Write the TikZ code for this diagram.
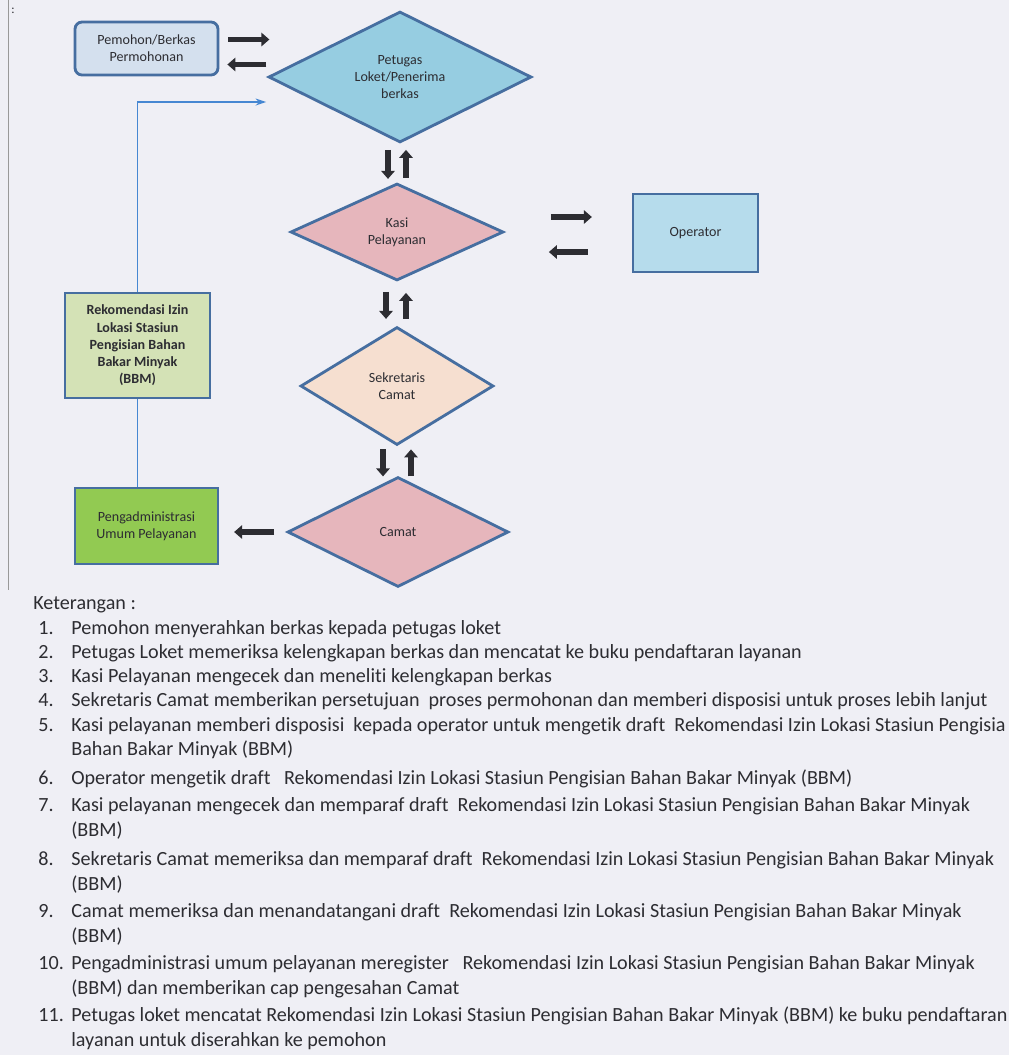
\documentclass[tikz,border=0pt]{standalone}
\usepackage{fontspec}
\setmainfont{Carlito}[Ligatures=NoCommon]
\usepackage{xcolor}
\usepackage{tikz}
\usetikzlibrary{arrows.meta,positioning,calc,shapes.geometric}

\definecolor{paper}{RGB}{239,239,245}
\definecolor{edge}{RGB}{70,110,160}
\definecolor{ink}{RGB}{45,45,50}
\definecolor{loket}{RGB}{150,205,225}
\definecolor{pemohon}{RGB}{212,224,238}
\definecolor{kasi}{RGB}{230,182,188}
\definecolor{sekcam}{RGB}{246,223,208}
\definecolor{oper}{RGB}{182,220,236}
\definecolor{rekom}{RGB}{212,226,182}
\definecolor{admin}{RGB}{146,202,82}
\definecolor{link}{RGB}{70,135,210}

\begin{document}
\begin{tikzpicture}[
  x=0.02cm, y=-0.02cm,
  box/.style={draw=edge, line width=1.6pt, align=center, text=ink,
              font=\fontsize{8}{9.6}\selectfont, inner sep=1pt},
  dia/.style={diamond, draw=edge, line width=1.6pt, align=center, text=ink,
              font=\fontsize{8}{9.6}\selectfont, inner sep=0pt, aspect=2},
  blk/.style={-{Triangle[length=4.5pt,width=7.5pt]}, line width=3.4pt, draw=ink},
  lnk/.style={draw=link, line width=1.1pt},
  lst/.style={anchor=base west, inner sep=0pt, text=ink,
              font=\fontsize{11.45}{13.5}\selectfont},
]
\useasboundingbox (0,0) rectangle (1009,1055);
\fill[paper] (0,0) rectangle (1009,1055);
\draw[black!40, line width=0.5pt] (8,0) -- (8,590);
\node[text=ink, font=\scriptsize] (dots) at (13,11) {:};

% flow
\node[dia, fill=loket, minimum width=5.26cm, minimum height=2.62cm] (loket) at (400,77)
  {Petugas\\Loket/Penerima\\berkas};
\node[dia, fill=kasi, minimum width=4.26cm, minimum height=1.94cm] (kasi) at (397,232)
  {Kasi\\Pelayanan};
\node[dia, fill=sekcam, minimum width=3.86cm, minimum height=2.36cm] (sekcam) at (397,386)
  {Sekretaris\\Camat};
\node[dia, fill=kasi, minimum width=4.42cm, minimum height=2.2cm] (camat) at (398,532)
  {Camat};

\node[box, fill=pemohon, rounded corners=4pt, minimum width=2.86cm, minimum height=1.06cm]
  (pemohon) at (146.5,48.5) {Pemohon/Berkas\\Permohonan};
\node[box, fill=oper, minimum width=2.5cm, minimum height=1.56cm] (oper) at (695.5,233)
  {Operator};
\node[box, fill=rekom, minimum width=2.9cm, minimum height=2.1cm,
      font=\fontsize{8}{9.8}\selectfont\bfseries] (rekom) at (137.5,345.5)
  {Rekomendasi Izin\\Lokasi Stasiun\\Pengisian Bahan\\Bakar Minyak\\(BBM)};
\node[box, fill=admin, minimum width=2.86cm, minimum height=1.52cm] (admin) at (146.5,526)
  {Pengadministrasi\\Umum Pelayanan};

% block arrows
\draw[blk] ($(pemohon.east)+(9,-9)$) -- ++(41,0);
\draw[blk] ($(pemohon.east)+(47,16)$) -- ++(-39,0);
\draw[blk] ($(loket.south)+(-12,6)$) -- ++(0,29);
\draw[blk] ($(loket.south)+(6,34)$) -- ++(0,-28);
\draw[blk] ($(kasi.south)+(-11,10)$) -- ++(0,27);
\draw[blk] ($(kasi.south)+(9,37)$) -- ++(0,-26);
\draw[blk] ($(sekcam.south)+(-14,3)$) -- ++(0,27);
\draw[blk] ($(sekcam.south)+(14,30)$) -- ++(0,-27);
\draw[blk] ($(kasi.east)+(46,-15)$) -- ++(41,0);
\draw[blk] ($(kasi.east)+(83,20)$) -- ++(-39,0);
\draw[blk] ($(camat.west)+(-12,0)$) -- ++(-40,0);

% return line
\coordinate (back) at ($(loket.west)+(-1,25)$);
\draw[lnk, -{Stealth[length=6pt,width=4pt]}] (rekom.north) |- (back);
\draw[lnk] (rekom.south) -- (rekom.south |- admin.north);

% keterangan
\node[lst] (ket) at (33,609) {Keterangan :};
\foreach \n/\y in {1/634,2/658,3/682,4/706,5/731,6/784,7/811,8/865,9/917,10/969,11/1021}
  \node[lst] (n\n) at (38,\y) {\n.};
\node[lst] (t1) at (71,634) {Pemohon menyerahkan berkas kepada petugas loket};
\node[lst] (t2) at (71,658) {Petugas Loket memeriksa kelengkapan berkas dan mencatat ke buku pendaftaran layanan};
\node[lst] (t3) at (71,682) {Kasi Pelayanan mengecek dan meneliti kelengkapan berkas};
\node[lst] (t4) at (71,706) {Sekretaris Camat memberikan persetujuan~ proses permohonan dan memberi disposisi untuk proses lebih lanjut};
\node[lst] (t5) at (71,731) {Kasi pelayanan memberi disposisi~ kepada operator untuk mengetik draft~ Rekomendasi Izin Lokasi Stasiun Pengisia};
\node[lst] (t5b) at (71,755) {Bahan Bakar Minyak (BBM)};
\node[lst] (t6) at (71,784) {Operator mengetik draft~~ Rekomendasi Izin Lokasi Stasiun Pengisian Bahan Bakar Minyak (BBM)};
\node[lst] (t7) at (71,811) {Kasi pelayanan mengecek dan memparaf draft~ Rekomendasi Izin Lokasi Stasiun Pengisian Bahan Bakar Minyak};
\node[lst] (t7b) at (71,836) {(BBM)};
\node[lst] (t8) at (71,865) {Sekretaris Camat memeriksa dan memparaf draft~ Rekomendasi Izin Lokasi Stasiun Pengisian Bahan Bakar Minyak};
\node[lst] (t8b) at (71,890) {(BBM)};
\node[lst] (t9) at (71,917) {Camat memeriksa dan menandatangani draft~ Rekomendasi Izin Lokasi Stasiun Pengisian Bahan Bakar Minyak};
\node[lst] (t9b) at (71,942) {(BBM)};
\node[lst] (t10) at (71,969) {Pengadministrasi umum pelayanan meregister~~ Rekomendasi Izin Lokasi Stasiun Pengisian Bahan Bakar Minyak};
\node[lst] (t10b) at (71,994) {(BBM) dan memberikan cap pengesahan Camat};
\node[lst] (t11) at (71,1021) {Petugas loket mencatat Rekomendasi Izin Lokasi Stasiun Pengisian Bahan Bakar Minyak (BBM) ke buku pendaftaran};
\node[lst] (t11b) at (71,1046) {layanan untuk diserahkan ke pemohon};
\end{tikzpicture}
\end{document}
